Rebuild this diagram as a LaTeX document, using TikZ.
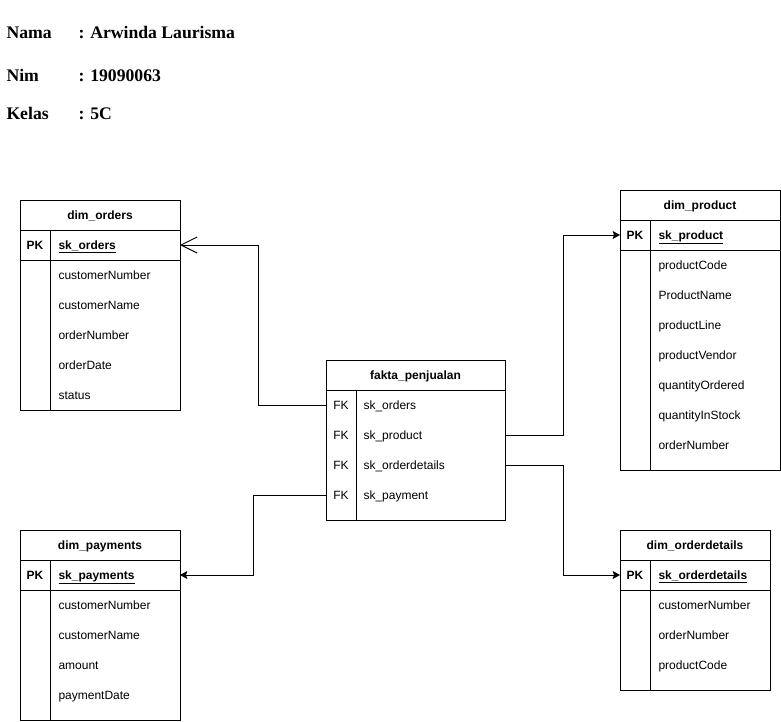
\documentclass[tikz,border=0pt]{standalone}
\usepackage{fontspec}
\setmainfont{Liberation Serif}
\setsansfont{Liberation Sans}
\usetikzlibrary{arrows.meta}
\begin{document}
\begin{tikzpicture}[x=0.75pt,y=-0.75pt,
  every path/.style={line width=0.75pt},
  tbl/.style={draw,line width=0.75pt,inner sep=0pt,outer sep=0pt,anchor=north west},
  txt/.style={font=\sffamily\fontsize{9}{10}\selectfont,inner sep=0pt,text height=6.5pt,text depth=0pt},
  hdr/.style={txt,font=\sffamily\fontsize{9}{10}\selectfont\bfseries},
  fld/.style={txt,anchor=west},
  key/.style={txt},
  pkey/.style={txt,font=\sffamily\fontsize{9}{10}\selectfont\bfseries},
  pkf/.style={txt,font=\sffamily\fontsize{9}{10}\selectfont\bfseries,anchor=west},
  info/.style={font=\rmfamily\fontsize{13.25}{15}\selectfont\bfseries,inner sep=0pt,anchor=base west},
  openarr/.style={-{Straight Barb[length=12pt,width=12pt,line width=0.75pt]}},
  fillarr/.style={-{Stealth[length=5.5pt,width=6pt,inset=1pt]}}
]
\useasboundingbox (0,0) rectangle (781,721);

% info header
\node[info] (nama) at (6,38) {Nama};
\node[info] (namav) at (78,38) {: Arwinda Laurisma};
\node[info] (nim) at (6,81) {Nim};
\node[info] (nimv) at (78,81) {: 19090063};
\node[info] (kelas) at (6,119) {Kelas};
\node[info] (kelasv) at (78,119) {: 5C};

% dim_orders
\node[tbl,minimum width=120pt,minimum height=157.5pt] (orders) at (20,200) {};
\draw (20,230) -- (180,230) (20,260) -- (180,260) (50,230) -- (50,410);
\node[hdr] (ordersh) at (100,215) {dim\_orders};
\node[pkey] (orderspk) at (35,245) {PK};
\node[pkf] (pko) at (58,245) {\underline{sk\_orders}};
\node[fld] (o1) at (58,275) {customerNumber};
\node[fld] (o2) at (58,305) {customerName};
\node[fld] (o3) at (58,335) {orderNumber};
\node[fld] (o4) at (58,365) {orderDate};
\node[fld] (o5) at (58,395) {status};

% fakta_penjualan
\node[tbl,minimum width=134.25pt,minimum height=120pt] (fakta) at (326,360) {};
\draw (326,390) -- (505,390) (356,390) -- (356,520);
\node[hdr] (faktah) at (415.5,375) {fakta\_penjualan};
\node[key] (fk1) at (341,405) {FK};
\node[key] (fk2) at (341,435) {FK};
\node[key] (fk3) at (341,465) {FK};
\node[key] (fk4) at (341,495) {FK};
\node[fld] (fko) at (363,405) {sk\_orders};
\node[fld] (fkp) at (363,435) {sk\_product};
\node[fld] (fkd) at (363,465) {sk\_orderdetails};
\node[fld] (fkpay) at (363,495) {sk\_payment};

% dim_product
\node[tbl,minimum width=120pt,minimum height=210pt] (product) at (620,190) {};
\draw (620,220) -- (780,220) (620,250) -- (780,250) (650,220) -- (650,470);
\node[hdr] (producth) at (700,205) {dim\_product};
\node[pkey] (productpk) at (635,235) {PK};
\node[pkf] (pkp) at (658,235) {\underline{sk\_product}};
\node[fld] (p1) at (658,265) {productCode};
\node[fld] (p2) at (658,295) {ProductName};
\node[fld] (p3) at (658,325) {productLine};
\node[fld] (p4) at (658,355) {productVendor};
\node[fld] (p5) at (658,385) {quantityOrdered};
\node[fld] (p6) at (658,415) {quantityInStock};
\node[fld] (p7) at (658,445) {orderNumber};

% dim_payments
\node[tbl,minimum width=120pt,minimum height=142.5pt] (payments) at (20,530) {};
\draw (20,560) -- (180,560) (20,590) -- (180,590) (50,560) -- (50,720);
\node[hdr] (paymentsh) at (100,545) {dim\_payments};
\node[pkey] (paymentspk) at (35,575) {PK};
\node[pkf] (pkpay) at (58,575) {\underline{sk\_payments}};
\node[fld] (y1) at (58,605) {customerNumber};
\node[fld] (y2) at (58,635) {customerName};
\node[fld] (y3) at (58,665) {amount};
\node[fld] (y4) at (58,695) {paymentDate};

% dim_orderdetails
\node[tbl,minimum width=112.5pt,minimum height=120pt] (details) at (620,530) {};
\draw (620,560) -- (770,560) (620,590) -- (770,590) (650,560) -- (650,690);
\node[hdr] (detailsh) at (695,545) {dim\_orderdetails};
\node[pkey] (detailspk) at (635,575) {PK};
\node[pkf] (pkd) at (658,575) {\underline{sk\_orderdetails}};
\node[fld] (d1) at (658,605) {customerNumber};
\node[fld] (d2) at (658,635) {orderNumber};
\node[fld] (d3) at (658,665) {productCode};

% connectors
\draw[openarr] (fakta.west |- fko) -- ++(-68,0) |- (orders.east |- pko);
\draw[fillarr] (fakta.east |- fkp) -- ++(58,0) |- (product.west |- pkp);
\draw[fillarr] (fakta.east |- fkd) -- ++(58,0) |- (details.west |- pkd);
\draw[fillarr] (fakta.west |- fkpay) -- ++(-73,0) |- (payments.east |- pkpay);
\end{tikzpicture}
\end{document}
